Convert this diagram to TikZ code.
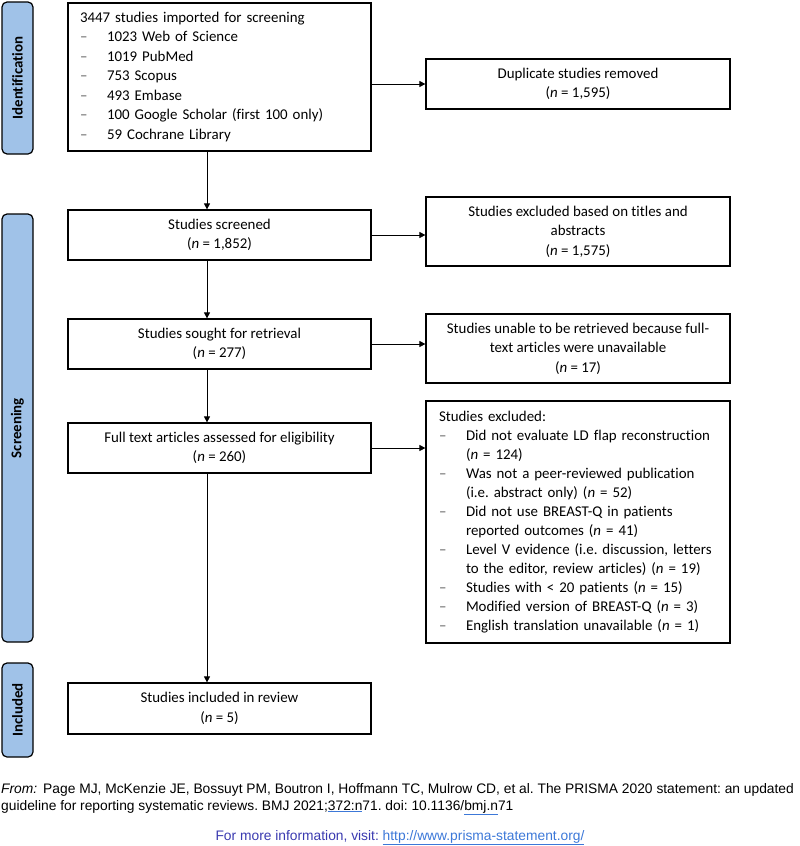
\documentclass[tikz,border=0pt]{standalone}
\usepackage{fontspec}
\setmainfont[RawFeature={-liga;-clig;-calt;-dlig}]{Carlito}
\newfontfamily\arialfont{Liberation Sans}
\usetikzlibrary{arrows.meta}
\definecolor{barblue}{RGB}{160,194,232}
\definecolor{infoblue}{RGB}{58,58,176}
\definecolor{linkblue}{RGB}{60,120,216}
\definecolor{dashgray}{RGB}{90,90,90}
\newcommand\itm{\makebox[27pt][l]{\color{dashgray}--}}
\newcommand\ind{\hspace*{27pt}}
\newcommand\nn[1]{(\textit{n} = #1)}
\newcommand\lnk[1]{{\color{linkblue}\underline{\color{black}#1}}}
\frenchspacing
\begin{document}
\begin{tikzpicture}
[x=1pt,y=-1pt,%
  box/.style={draw,line width=1.2pt,inner sep=0pt,align=center,minimum width=303pt},%
  sidebox/.style={box,minimum width=304pt},%
  phase/.style={draw,line width=1.2pt,rounded corners=5pt,fill=barblue,%
    rotate=90,minimum height=31pt,inner sep=0pt,font=\bfseries},%
  flow/.style={-{Triangle[length=6pt,width=6pt]},line width=0.8pt},%
  foot/.style={anchor=base west,inner sep=0pt,font=\arialfont\fontsize{13.8}{17}\selectfont}]
\useasboundingbox (0,0) rectangle (800,846);
\fontsize{14.9}{19.5}\selectfont
% phases
\node[phase,minimum width=152pt] (ident) at (17.5,78) {Identification};
\node[phase,minimum width=428pt] (screen) at (17.5,428) {Screening};
\node[phase,minimum width=94pt] (incl) at (17.5,710) {Included};
% main column
\node[box,minimum height=148pt,align=left,text width=279pt] (imported) at (219.5,77)
  {3447 studies imported for screening\\
   \itm 1023 Web of Science\\
   \itm 1019 PubMed\\
   \itm 753 Scopus\\
   \itm 493 Embase\\
   \itm 100 Google Scholar (first 100 only)\\
   \itm 59 Cochrane Library};
\node[box,minimum height=50pt] (screened) at (219.5,235) {Studies screened\\ \nn{1,852}};
\node[box,minimum height=50pt] (sought) at (219.5,344) {Studies sought for retrieval\\ \nn{277}};
\node[box,minimum height=50pt] (fulltext) at (219.5,448)
  {Full text articles assessed for eligibility\\ \nn{260}};
\node[box,minimum height=51pt] (included) at (219.5,708.5) {Studies included in review\\ \nn{5}};
% side column
\node[sidebox,minimum height=50pt] (dup) at (578,84) {Duplicate studies removed\\ \nn{1,595}};
\node[sidebox,minimum height=69pt] (titles) at (578,231.5)
  {Studies excluded based on titles and\\ abstracts\\ \nn{1,575}};
\node[sidebox,minimum height=69pt] (unable) at (578,348.5)
  {Studies unable to be retrieved because full-\\ text articles were unavailable\\ \nn{17}};
\node[sidebox,minimum height=242pt,align=left,text width=278pt,
  font=\fontsize{14.9}{19}\selectfont] (excluded) at (578,522)
  {Studies excluded:\\
   \itm \mbox{Did not evaluate LD flap reconstruction}\\
   \ind \nn{124}\\
   \itm \mbox{Was not a peer-reviewed publication}\\
   \ind \mbox{(i.e. abstract only) \nn{52}}\\
   \itm \mbox{Did not use BREAST-Q in patients}\\
   \ind \mbox{reported outcomes \nn{41}}\\
   \itm \mbox{Level V evidence (i.e. discussion, letters}\\
   \ind \mbox{to the editor, review articles) \nn{19}}\\
   \itm \mbox{Studies with < 20 patients \nn{15}}\\
   \itm \mbox{Modified version of BREAST-Q \nn{3}}\\
   \itm \mbox{English translation unavailable \nn{1}}};
% arrows
\coordinate (spine) at (207,0);
\draw[flow] (imported.south -| spine) -- (screened.north -| spine);
\draw[flow] (screened.south -| spine) -- (sought.north -| spine);
\draw[flow] (sought.south -| spine) -- (fulltext.north -| spine);
\draw[flow] (fulltext.south -| spine) -- (included.north -| spine);
\draw[flow] (imported.east |- dup.west) -- (dup.west);
\draw[flow] (screened.east) -- (screened.east -| titles.west);
\draw[flow] (sought.east) -- (sought.east -| unable.west);
\draw[flow] (fulltext.east) -- (fulltext.east -| excluded.west);
% footer
\node[foot] (cite1) at (1,793) {\textit{From:}\hspace{6pt}Page MJ, McKenzie JE, Bossuyt PM, Boutron I, Hoffmann TC, Mulrow CD, et al. The PRISMA 2020 statement: an updated};
\node[foot] (cite2) at (1,810) {guideline for reporting systematic reviews. BMJ 2021;\lnk{372:n}71. doi: 10.1136/\lnk{bmj.n}71};
\node[foot,anchor=base] (info) at (400,840) {\color{infoblue}For more information, visit: {\color{linkblue}\underline{http://www.prisma-statement.org/}}};
\end{tikzpicture}
\end{document}
